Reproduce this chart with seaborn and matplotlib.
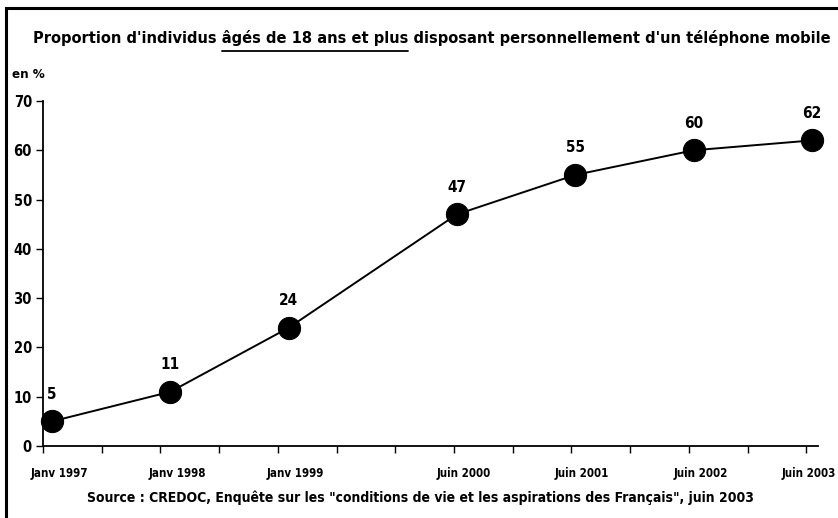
import matplotlib
matplotlib.use("Agg")
import matplotlib.pyplot as plt
import matplotlib.transforms as mtrans
from matplotlib.patches import Rectangle
from matplotlib.lines import Line2D
import pandas as pd
import seaborn as sns

# donnees
periodes = ["Janv 1997", "Janv 1998", "Janv 1999", "Juin 2000", "Juin 2001", "Juin 2002", "Juin 2003"]
dates = [1997.0, 1998.0, 1999.0, 2000.42, 2001.42, 2002.42, 2003.42]
pourcentages = [5, 11, 24, 47, 55, 60, 62]
graduations_y = [0, 10, 20, 30, 40, 50, 60, 70]

titre_avant = "Proportion d'individus "
titre_souligne = "âgés de 18 ans et plus"
titre_apres = " disposant personnellement d'un téléphone mobile"
source = 'Source : CREDOC, Enquête sur les "conditions de vie et les aspirations des Français", juin 2003'

df = pd.DataFrame({"date": dates, "pct": pourcentages})

sns.set_theme(style="white")
plt.rcParams['font.family'] = ['DejaVu Sans']
plt.rcParams['font.stretch'] = 'condensed'
plt.rcParams['font.weight'] = 'bold'
for k in ['text.color', 'axes.labelcolor', 'xtick.color', 'ytick.color']:
    plt.rcParams[k] = 'black'

fig = plt.figure(figsize=(8.38, 5.18), dpi=100)
ax = fig.add_axes([43/838, 1-446/518, (818-43)/838, (446-101)/518])

sns.lineplot(data=df, x="date", y="pct", color="black", marker="o", markersize=16,
             linewidth=1.4, markeredgecolor="black", ax=ax, clip_on=False)

for x, v in zip(dates, pourcentages):
    ax.annotate(str(v), (x, v), xytext=(0, 14), textcoords="offset points",
                ha="center", va="bottom", fontsize=11, fontweight="bold")

x0 = 1997 - 9/118.4
ax.set_xlim(x0, 2003.42 + 6/118.4)
ax.set_ylim(0, 70)

ax.set_xticks(dates)
ax.set_xticklabels(periodes, fontsize=8.3, fontweight="bold")
ax.set_xticks([x0 + 0.496*k for k in range(14)], minor=True)
ax.tick_params(axis="x", which="major", length=0, pad=15)
ax.tick_params(axis="x", which="minor", length=5, width=1, direction="out", bottom=True, color="black")
labels = ax.get_xticklabels()
for lab in labels[:-1]:
    lab.set_transform(lab.get_transform() + mtrans.ScaledTranslation(5/72, 0, fig.dpi_scale_trans))
# la derniere etiquette est calee a droite pour rester dans le cadre
labels[-1].set_horizontalalignment("right")
labels[-1].set_transform(labels[-1].get_transform() + mtrans.ScaledTranslation(17/72, 0, fig.dpi_scale_trans))

ax.set_yticks(graduations_y)
ax.set_yticklabels([str(v) for v in graduations_y], fontsize=10.5, fontweight="bold")
ax.tick_params(axis="y", length=5, width=1, direction="out", left=True, color="black", pad=3)

ax.set_xlabel("")
ax.set_ylabel("")
for s in ["top", "right"]:
    ax.spines[s].set_visible(False)
for s in ["left", "bottom"]:
    ax.spines[s].set_color("black")
    ax.spines[s].set_linewidth(1.3)

fig.text(12/838, 1-75/518, "en %", fontsize=9.5, fontweight="bold", va="center", ha="left")

r = fig.canvas.get_renderer()


def ajuste(t, cible):
    # adapte la taille de police a la largeur voulue (en pixels)
    w = t.get_window_extent(r).width
    t.set_fontsize(t.get_fontsize() * cible / w)


def largeur(s, taille):
    t = fig.text(0, 0, s + "|", fontsize=taille, fontweight="heavy")
    w = t.get_window_extent(r).width
    t.remove()
    t = fig.text(0, 0, "|", fontsize=taille, fontweight="heavy")
    w -= t.get_window_extent(r).width
    t.remove()
    return w


# titre avec partie soulignee
yt = 1 - 38/518
titre = fig.text(33/838, yt, titre_avant + titre_souligne + titre_apres,
                 fontsize=15, fontweight="heavy", va="center", ha="left")
ajuste(titre, 795)
taille = titre.get_fontsize()
w1 = largeur(titre_avant, taille)
w2 = largeur(titre_souligne, taille)
fig.add_artist(Line2D([(33 + w1)/838, (33 + w1 + w2)/838], [1-51/518, 1-51/518],
                      color="black", linewidth=1.3, transform=fig.transFigure))

src = fig.text(420/838, 1-498/518, source, fontsize=12, fontweight="heavy", ha="center", va="center")
ajuste(src, 670)

fig.add_artist(Rectangle((6/838, -0.1), 1.2, 1.1 - 8/518, fill=False, edgecolor="black",
                         linewidth=2.2, transform=fig.transFigure))

fig.savefig("out.png", dpi=100)
